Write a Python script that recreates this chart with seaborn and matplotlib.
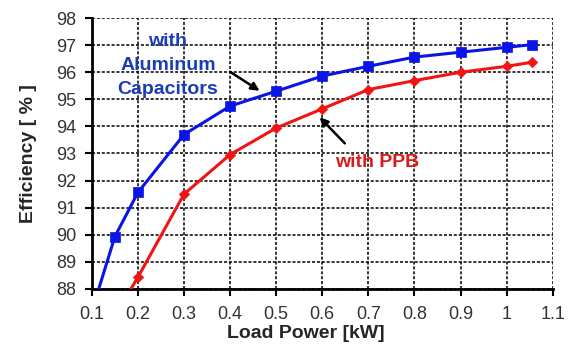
import matplotlib
matplotlib.use("Agg")
import matplotlib.pyplot as plt
import seaborn as sns
import pandas as pd

# Measured points
load_alu = [0.15, 0.2, 0.3, 0.4, 0.5, 0.6, 0.7, 0.8, 0.9, 1.0, 1.055]
eff_alu = [89.93, 91.56, 93.7, 94.75, 95.3, 95.86, 96.22, 96.56, 96.74, 96.92, 97.02]
load_ppb = [0.2, 0.3, 0.4, 0.5, 0.6, 0.7, 0.8, 0.9, 1.0, 1.055]
eff_ppb = [88.43, 91.5, 92.96, 93.94, 94.65, 95.36, 95.69, 96.0, 96.22, 96.37]
# curve start points where each line leaves the bottom of the plot
start_alu = (0.115, 88.0)
start_ppb = (0.185, 88.0)

x_ticks = [0.1, 0.2, 0.3, 0.4, 0.5, 0.6, 0.7, 0.8, 0.9, 1.0, 1.1]
x_labels = ["0.1", "0.2", "0.3", "0.4", "0.5", "0.6", "0.7", "0.8", "0.9", "1", "1.1"]
y_ticks = list(range(88, 99))

sns.set_theme(style="white")
plt.rcParams["font.family"] = ["Liberation Sans", "DejaVu Sans"]

df_alu = pd.DataFrame({"x": load_alu, "y": eff_alu})
df_ppb = pd.DataFrame({"x": load_ppb, "y": eff_ppb})
line_alu = pd.DataFrame({"x": [start_alu[0]] + load_alu, "y": [start_alu[1]] + eff_alu})
line_ppb = pd.DataFrame({"x": [start_ppb[0]] + load_ppb, "y": [start_ppb[1]] + eff_ppb})

fig = plt.figure(figsize=(5.74, 3.48), dpi=100)
ax = fig.add_axes([0.160, 0.170, 0.803, 0.778])

blue = "#0a14e6"
red = "#f01414"
sns.lineplot(data=line_alu, x="x", y="y", ax=ax, color=blue, lw=2.2, zorder=3)
sns.lineplot(data=line_ppb, x="x", y="y", ax=ax, color=red, lw=2.2, zorder=3)
sns.scatterplot(data=df_alu, x="x", y="y", ax=ax, color=blue, marker="s", s=55,
                edgecolor=blue, linewidth=0.5, zorder=4)
sns.scatterplot(data=df_ppb, x="x", y="y", ax=ax, color=red, marker="D", s=28,
                edgecolor=red, linewidth=0.5, zorder=4)

ax.set_xlim(0.1, 1.1)
ax.set_ylim(88, 98)
ax.set_xticks(x_ticks)
ax.set_xticklabels(x_labels)
ax.set_yticks(y_ticks)
ax.grid(True, color="black", linestyle=(0, (2, 1.2)), linewidth=1.1)
ax.set_axisbelow(True)
for s in ["top", "right"]:
    ax.spines[s].set_visible(False)
for s in ["left", "bottom"]:
    ax.spines[s].set_color("black")
    ax.spines[s].set_linewidth(2.0)
ax.tick_params(axis="both", direction="out", length=5, width=1.5, color="black",
               labelsize=13, labelcolor="#333333", bottom=True, left=True)
ax.tick_params(axis="x", pad=7)
ax.tick_params(axis="y", pad=6)
ax.set_xlabel("Load Power [kW]", fontsize=14, fontweight="bold")
ax.xaxis.set_label_coords(0.464, -0.135)
ax.set_ylabel("Efficiency [ % ]", fontsize=14, fontweight="bold")
ax.yaxis.set_label_coords(-0.118, 0.50)

ax.text(0.265, 96.25, "with\nAluminum\nCapacitors", color="#1a3cb4", fontsize=14,
        fontweight="bold", ha="center", va="center", linespacing=1.55)
ax.annotate("", xy=(0.469, 95.26), xytext=(0.395, 96.07),
            arrowprops=dict(arrowstyle="-|>", color="black", lw=1.8, mutation_scale=12))
ax.text(0.718, 92.68, "with PPB", color="#d81c1c", fontsize=14, fontweight="bold",
        ha="center", va="center")
ax.annotate("", xy=(0.590, 94.41), xytext=(0.653, 93.30),
            arrowprops=dict(arrowstyle="-|>", color="black", lw=1.8, mutation_scale=12))

fig.savefig("out.png", dpi=100)
